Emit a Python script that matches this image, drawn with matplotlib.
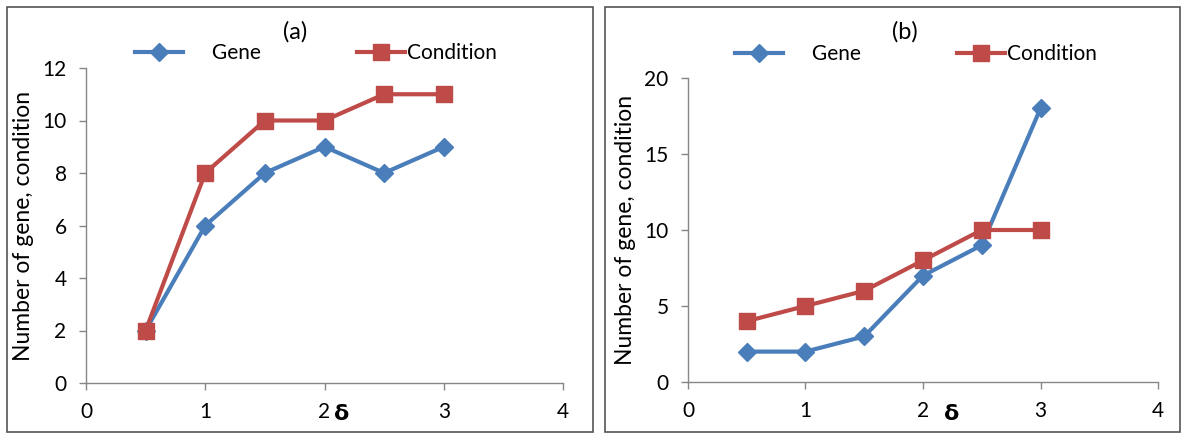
import matplotlib
matplotlib.use('Agg')
import matplotlib.pyplot as plt
from matplotlib.patches import Rectangle

plt.rcParams['font.family'] = ['Lato', 'DejaVu Sans']

delta = [0.5, 1.0, 1.5, 2.0, 2.5, 3.0]
gene_a = [2, 6, 8, 9, 8, 9]
cond_a = [2, 8, 10, 10, 11, 11]
gene_b = [2, 2, 3, 7, 9, 18]
cond_b = [4, 5, 6, 8, 10, 10]

BLUE = '#4a7ebb'
RED = '#be4b48'
GRAY = '#868686'
W, H = 1184, 434


def px(x, y):
    # pixel position (from top-left) to figure fraction
    return x / W, 1 - y / H


def draw_panel(fig, rect, gene, cond, ymax, ystep, title, tpos, lpos, dpos):
    ax = fig.add_axes(rect)
    ax.plot(delta, gene, color=BLUE, lw=3, marker='D', ms=9.5,
            mfc=BLUE, mec=BLUE, label='     Gene', zorder=3)
    ax.plot(delta, cond, color=RED, lw=3, marker='s', ms=12,
            mfc=RED, mec=RED, label='Condition', zorder=4)
    ax.set_xlim(0, 4)
    ax.set_ylim(0, ymax)
    ax.set_xticks(range(0, 5))
    ax.set_yticks(range(0, ymax + 1, ystep))
    for s in ['top', 'right']:
        ax.spines[s].set_visible(False)
    for s in ['left', 'bottom']:
        ax.spines[s].set_color(GRAY)
        ax.spines[s].set_linewidth(1.0)
    ax.tick_params(axis='both', colors=GRAY, labelcolor='black',
                   labelsize=15, length=5, width=1.0)
    ax.tick_params(axis='x', pad=9)
    ax.tick_params(axis='y', pad=9)
    ax.set_ylabel('Number of gene, condition', fontsize=16.5, labelpad=6)
    fig.text(*px(*dpos), 'δ', fontsize=16, fontweight='bold',
             ha='center', va='center', family=['DejaVu Sans'])
    fig.text(*px(*tpos), title, fontsize=17, ha='center', va='center')
    ax.legend(loc='center', bbox_to_anchor=px(*lpos),
              bbox_transform=fig.transFigure, ncol=2,
              frameon=False, fontsize=15, handlelength=2.3,
              columnspacing=4.6, handletextpad=0.1)
    return ax


fig = plt.figure(figsize=(W / 100, H / 100), dpi=100)

# panel borders
fig.patches.append(Rectangle((7 / W, 2 / H), 586 / W, 425 / H,
                             transform=fig.transFigure, fill=False,
                             ec='#555555', lw=1.2))
fig.patches.append(Rectangle((605 / W, 2 / H), 575 / W, 425 / H,
                             transform=fig.transFigure, fill=False,
                             ec='#555555', lw=1.2))

draw_panel(fig, [86 / W, 1 - 383 / H, 477 / W, 315 / H], gene_a, cond_a,
           12, 2, '(a)', (295, 32), (316, 53), (342, 414))
draw_panel(fig, [688 / W, 1 - 382 / H, 470 / W, 304 / H], gene_b, cond_b,
           20, 5, '(b)', (905, 32), (916, 54), (952, 414))

fig.savefig('out.png', dpi=100)
